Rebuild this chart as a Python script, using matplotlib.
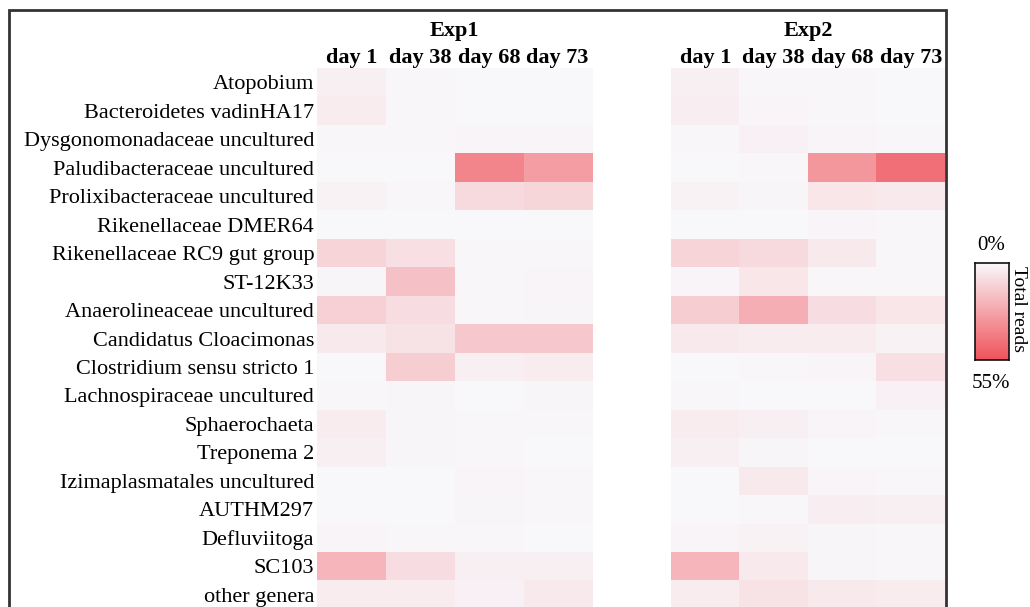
import numpy as np
import matplotlib
matplotlib.use("Agg")
import matplotlib.pyplot as plt
from matplotlib.colors import LinearSegmentedColormap
from matplotlib.patches import Rectangle

plt.rcParams['font.family'] = ['Liberation Serif', 'DejaVu Serif']

genera = [
    "Atopobium", "Bacteroidetes vadinHA17", "Dysgonomonadaceae uncultured",
    "Paludibacteraceae uncultured", "Prolixibacteraceae uncultured",
    "Rikenellaceae DMER64", "Rikenellaceae RC9 gut group", "ST-12K33",
    "Anaerolineaceae uncultured", "Candidatus Cloacimonas",
    "Clostridium sensu stricto 1", "Lachnospiraceae uncultured",
    "Sphaerochaeta", "Treponema 2", "Izimaplasmatales uncultured",
    "AUTHM297", "Defluviitoga", "SC103", "other genera",
]
days = ["day 1", "day 38", "day 68", "day 73"]
experiments = ["Exp1", "Exp2"]

# relative abundance (% of total reads), columns: day 1, day 38, day 68, day 73
exp1 = [
    [3.0, 0.5, 0.3, 0.3],
    [4.0, 0.5, 0.3, 0.3],
    [0.5, 0.5, 1.5, 1.5],
    [0.3, 0.3, 38.0, 30.0],
    [2.0, 0.5, 10.0, 11.0],
    [0.3, 0.3, 0.3, 0.3],
    [12.0, 8.0, 0.5, 0.5],
    [1.0, 18.0, 0.5, 1.5],
    [13.0, 9.0, 0.5, 1.0],
    [5.0, 7.0, 16.0, 16.0],
    [0.3, 14.0, 3.0, 4.0],
    [0.5, 1.0, 0.3, 1.0],
    [4.0, 1.0, 0.5, 0.5],
    [3.0, 1.0, 0.5, 0.3],
    [0.3, 0.3, 1.5, 0.5],
    [0.3, 0.3, 1.0, 0.5],
    [1.5, 0.5, 0.5, 0.3],
    [22.0, 9.0, 3.0, 3.0],
    [4.0, 4.0, 2.5, 5.0],
]
exp2 = [
    [3.0, 0.5, 0.5, 0.3],
    [3.5, 1.5, 0.8, 0.3],
    [0.5, 2.5, 1.5, 0.5],
    [0.3, 0.5, 32.0, 45.0],
    [2.0, 1.0, 6.0, 5.0],
    [0.3, 0.3, 1.5, 0.5],
    [12.0, 10.0, 5.0, 0.8],
    [1.5, 6.0, 0.5, 0.5],
    [14.0, 24.0, 9.0, 6.0],
    [5.0, 4.0, 4.0, 2.0],
    [0.3, 0.8, 1.5, 8.0],
    [0.8, 0.3, 0.3, 2.5],
    [4.0, 3.0, 1.5, 0.5],
    [3.0, 1.0, 0.3, 0.3],
    [0.3, 5.0, 1.5, 0.5],
    [0.3, 0.5, 3.5, 3.0],
    [1.5, 2.0, 1.0, 0.5],
    [22.0, 5.0, 1.0, 0.5],
    [4.0, 7.0, 5.0, 4.0],
]
vmin, vmax = 0, 55

cmap = LinearSegmentedColormap.from_list("reads", ["#f9f8fb", "#f0525a"])

W, H = 1030, 607
fig = plt.figure(figsize=(W / 100, H / 100), dpi=100)


def px_axes(x0, x1, y0, y1):
    return fig.add_axes([x0 / W, (H - y1) / H, (x1 - x0) / W, (y1 - y0) / H])


# outer frame
fig.patches.append(Rectangle((9 / W, -0.05), (946 - 9) / W, (H - 10) / H + 0.05,
                             transform=fig.transFigure, fill=False,
                             edgecolor="#333333", lw=2.0, zorder=10))

panels = [(317, 592, exp1), (671, 945, exp2)]
for i, (x0, x1, data) in enumerate(panels):
    ax = px_axes(x0, x1, 68, 609)
    arr = np.array(data)
    ax.imshow(arr, cmap=cmap, vmin=vmin, vmax=vmax, aspect="auto",
              interpolation="nearest")
    for s in ax.spines.values():
        s.set_visible(False)
    ax.xaxis.tick_top()
    ax.set_xticks(range(len(days)))
    ax.set_xticklabels(days, fontsize=16, fontweight="bold")
    ax.tick_params(axis="x", length=0, pad=0)
    if i == 0:
        ax.set_yticks(range(len(genera)))
        ax.set_yticklabels(genera, fontsize=16)
        ax.tick_params(axis="y", length=0, pad=2)
    else:
        ax.set_yticks([])
    ax.set_title(experiments[i], fontsize=16, fontweight="bold", pad=23)

# colour bar
cax = px_axes(975, 1009, 263, 360)
grad = np.linspace(vmin, vmax, 256).reshape(-1, 1)
cax.imshow(grad, cmap=cmap, vmin=vmin, vmax=vmax, aspect="auto")
cax.set_xticks([])
cax.set_yticks([])
for s in cax.spines.values():
    s.set_linewidth(1.2)
    s.set_color("#111111")
fig.text(991 / W, 1 - 245 / H, "0%", ha="center", va="center", fontsize=15)
fig.text(991 / W, 1 - 383 / H, "55%", ha="center", va="center", fontsize=15)
fig.text(1019 / W, 1 - 309 / H, "Total reads", ha="center", va="center",
         rotation=-90, fontsize=14)

fig.savefig("out.png", dpi=100)
